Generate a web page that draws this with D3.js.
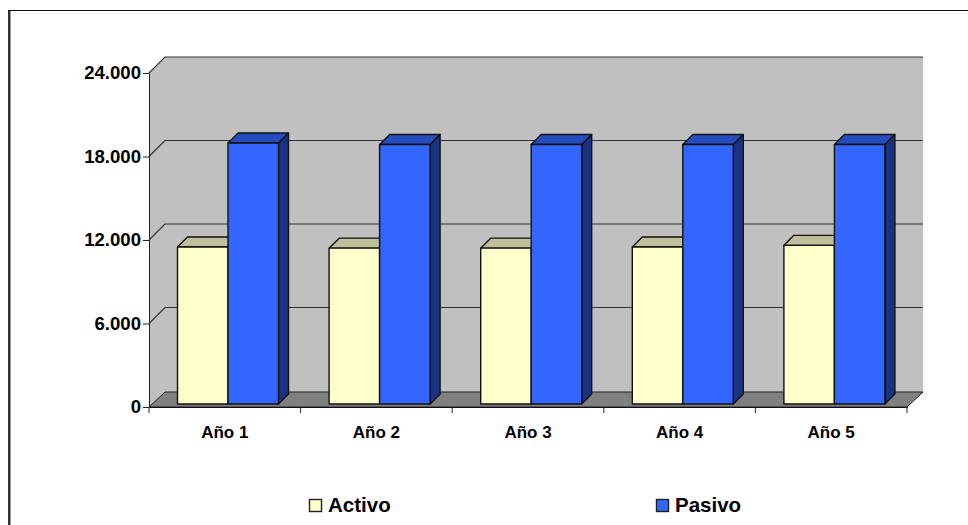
<!DOCTYPE html>
<html>
<head>
<meta charset="utf-8">
<script src="https://cdnjs.cloudflare.com/ajax/libs/d3/7.8.5/d3.min.js"></script>
<style>
  html, body { margin: 0; padding: 0; background: #fff; }
  svg { display: block; }
  text { font-family: "Liberation Sans", Arial, sans-serif; font-weight: bold; fill: #000; }
</style>
</head>
<body>
<div id="chart"></div>
<script>
// values
var years = ["Año 1", "Año 2", "Año 3", "Año 4", "Año 5"];
var activo = [11280, 11200, 11200, 11280, 11400];
var pasivo = [18750, 18650, 18650, 18650, 18650];
var yTicks = [0, 6000, 12000, 18000, 24000];
var seriesNames = ["Activo", "Pasivo"];
var seriesValues = [activo, pasivo];

var colors = {
	Activo: { front: "#ffffcc", top: "#bfbf99", side: "#808066" },
	Pasivo: { front: "#3366ff", top: "#264dbf", side: "#1a3380" }
};

var width = 968, height = 525;
var x0 = 149, x1 = 907, yBase = 407, yTop = 73;
var wallDepth = 16, barDepth = 10, barLift = 3;

var svg = d3.select("#chart").append("svg")
	.attr("width", width)
	.attr("height", height);

// outer frame, the bottom and right side are cut off in the picture
svg.append("line")
	.attr("x1", 9.25).attr("x2", 9.25).attr("y1", 10).attr("y2", 525)
	.attr("stroke", "#333").attr("stroke-width", 2.5);
svg.append("line")
	.attr("x1", 8).attr("x2", 968).attr("y1", 10.5).attr("y2", 10.5)
	.attr("stroke", "#111");

var x = d3.scaleBand().domain(years).range([x0, x1]);
var xInner = d3.scaleBand().domain(seriesNames).range([28.5, 129.5]);
var y = d3.scaleLinear().domain([0, 24000]).range([yBase, yTop]);

var fmt = d3.formatLocale({ decimal: ",", thousands: ".", grouping: [3], currency: ["", ""] }).format(",d");

function pts(list) {
	return list.map(function(p) { return p.join(","); }).join(" ");
}

// walls and floor
svg.append("polygon")
	.attr("points", pts([[x0, yTop], [x0 + wallDepth, yTop - wallDepth], [x1 + wallDepth, yTop - wallDepth], [x1 + wallDepth, yBase - wallDepth + 1], [x0, yBase]]))
	.attr("fill", "#c0c0c0");
svg.append("polygon")
	.attr("points", pts([[x0, yBase], [x0 + wallDepth, yBase - wallDepth + 1], [x1 + wallDepth, yBase - wallDepth + 1], [x1, yBase]]))
	.attr("fill", "#808080")
	.attr("stroke", "#222");

// gridlines run along the side wall and the back wall
svg.append("g").selectAll("polyline")
	.data(yTicks.slice(1))
	.enter().append("polyline")
	.attr("points", function(d) {
		return pts([[x0, y(d)], [x0 + wallDepth, y(d) - wallDepth], [x1 + wallDepth, y(d) - wallDepth]]);
	})
	.attr("fill", "none")
	.attr("stroke", "#333")
	.attr("stroke-width", 1.2);

// one group per category, the bars are drawn left to right so the next front hides the side
var groups = svg.append("g").selectAll("g")
	.data(years)
	.enter().append("g");

seriesNames.forEach(function(name, s) {
	groups.each(function(year, i) {
		var v = seriesValues[s][i];
		var left = x(year) + xInner(name);
		var right = left + xInner.bandwidth();
		var top = y(v) - barLift;
		var bottom = y(0) - barLift;
		var c = colors[name];
		var g = d3.select(this).append("g")
			.attr("stroke", "#111")
			.attr("stroke-width", 1.4)
			.attr("stroke-linejoin", "round");

		g.append("polygon")
			.attr("points", pts([[right, top], [right + barDepth, top - barDepth], [right + barDepth, bottom - barDepth], [right, bottom]]))
			.attr("fill", c.side);
		g.append("polygon")
			.attr("points", pts([[left, top], [left + barDepth, top - barDepth], [right + barDepth, top - barDepth], [right, top]]))
			.attr("fill", c.top);
		g.append("rect")
			.attr("x", left).attr("y", top)
			.attr("width", xInner.bandwidth()).attr("height", bottom - top)
			.attr("fill", c.front);
	});
});

// axes
var yAxis = d3.axisLeft(y).tickValues(yTicks).tickFormat(fmt).tickSizeOuter(0).tickSize(6).tickPadding(2);
var gy = svg.append("g").attr("transform", "translate(" + x0 + ",0)").call(yAxis);
gy.selectAll("text").style("font-size", "18.6px");
gy.selectAll("line, path").attr("stroke", "#222");

var xAxis = d3.axisBottom(x).tickSize(0).tickPadding(19);
var gx = svg.append("g").attr("transform", "translate(0," + yBase + ")").call(xAxis);
gx.selectAll("text").style("font-size", "17px");
gx.select("path").attr("stroke", "#111");

// category separators sit on the band edges
svg.append("g").selectAll("line")
	.data(years.concat(["end"]))
	.enter().append("line")
	.attr("x1", function(d) { return d === "end" ? x1 : x(d); })
	.attr("x2", function(d) { return d === "end" ? x1 : x(d); })
	.attr("y1", yBase)
	.attr("y2", yBase + 6)
	.attr("stroke", "#222");

// legend
var legendX = d3.scalePoint().domain(seriesNames).range([309.5, 656.5]);
var legend = svg.append("g").selectAll("g")
	.data(seriesNames)
	.enter().append("g")
	.attr("transform", function(d) { return "translate(" + legendX(d) + ",499.5)"; });
legend.append("rect")
	.attr("width", 12).attr("height", 12)
	.attr("fill", function(d) { return colors[d].front; })
	.attr("stroke", "#222")
	.attr("stroke-width", 1.4);
legend.append("text")
	.attr("x", 18.5).attr("y", 12.5)
	.style("font-size", "20.5px")
	.text(function(d) { return d; });
</script>
</body>
</html>
